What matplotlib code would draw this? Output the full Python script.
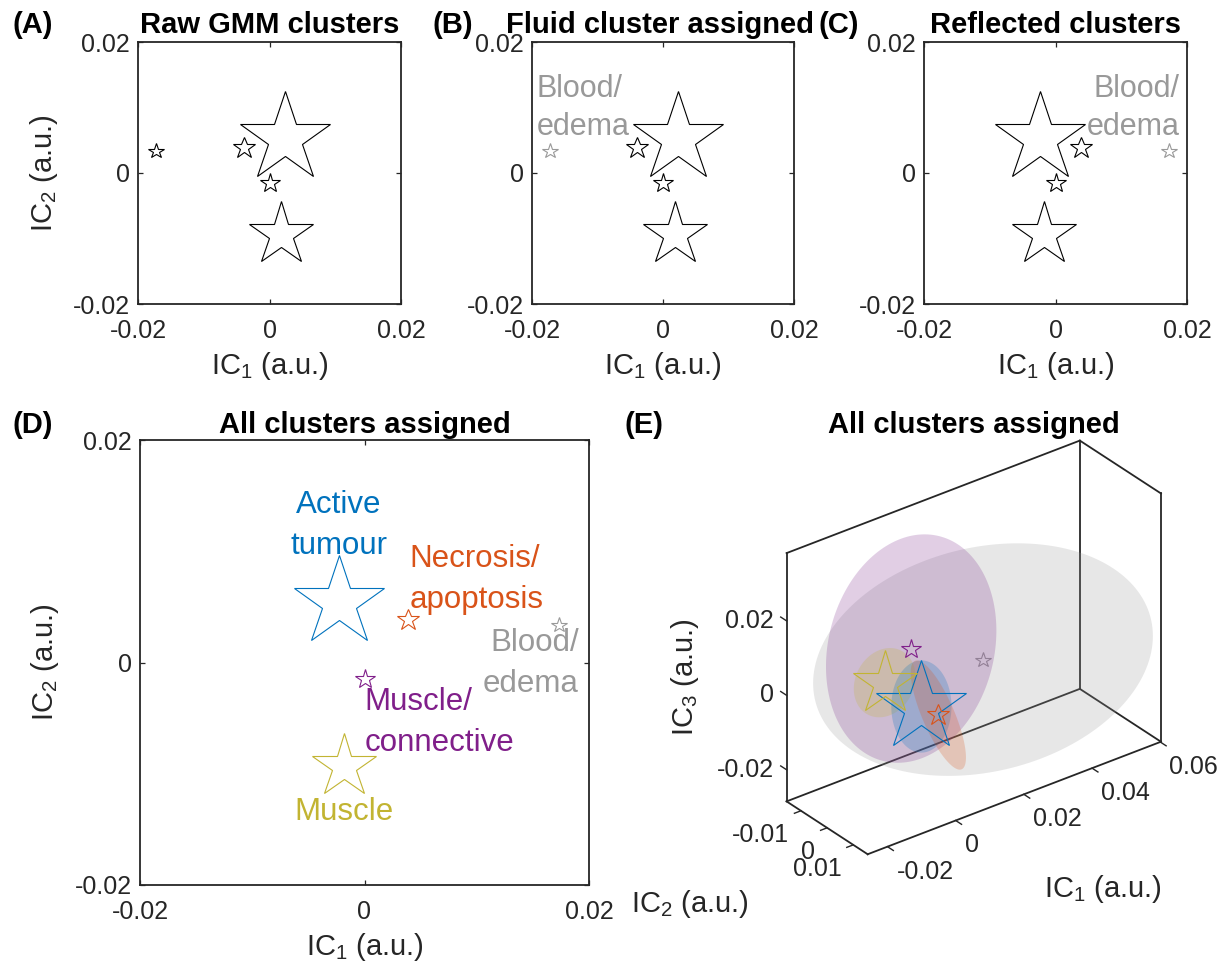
import numpy as np
import matplotlib
matplotlib.use("Agg")
import matplotlib.pyplot as plt
from matplotlib.colors import to_rgba
from mpl_toolkits.mplot3d import proj3d
from mpl_toolkits.mplot3d.art3d import Poly3DCollection

plt.rcParams["font.family"] = ["Liberation Sans", "DejaVu Sans"]
plt.rcParams["mathtext.fontset"] = "custom"
plt.rcParams["mathtext.rm"] = "Liberation Sans"
plt.rcParams["mathtext.it"] = "Liberation Sans:italic"
plt.rcParams["mathtext.bf"] = "Liberation Sans:bold"
plt.rcParams["axes.unicode_minus"] = False

# ---------------- data ----------------
cluster_names = ["Active\ntumour", "Necrosis/\napoptosis", "Blood/\nedema",
                 "Muscle/\nconnective", "Muscle"]
ic1_raw = [0.0023, -0.0039, -0.0173, 0.0000, 0.0018]
ic2_mean = [0.0054, 0.0038, 0.0034, -0.0015, -0.0093]
ic3_mean = [-0.0017, -0.0069, 0.0031, 0.0099, -0.0022]
cluster_weight = [67.5, 16.5, 11.5, 15.0, 48.0]
cluster_colors = ["#0072BD", "#D95319", "#999999", "#801F8A", "#C2B432"]
fluid_index = 2
ic1_reflected = [-v for v in ic1_raw]

ellipsoid_shape = [
    [[4.9e-5, 0.0, 0.0], [0.0, 4.9e-5, 0.0], [0.0, 0.0, 1.37e-4]],
    [[2.2e-5, -1.0e-5, -1.5e-5], [-1.0e-5, 1.0e-4, -6.73e-5], [-1.5e-5, -6.73e-5, 1.372e-4]],
    [[1.84e-3, 3.63e-4, -2.2e-4], [3.63e-4, 1.44e-4, 1.1e-5], [-2.2e-4, 1.1e-5, 1.0e-3]],
    [[5.2e-4, 0.0, 0.0], [0.0, 1.77e-4, 0.0], [0.0, 0.0, 8.4e-4]],
    [[6.7e-5, 0.0, 0.0], [0.0, 2.5e-5, 0.0], [0.0, 0.0, 7.3e-5]],
]
ellipsoid_colors = ["#0072BD", "#D95319", "#999999", "#7E2F8E", "#C2B432"]

ticks_2d = [-0.02, 0.0, 0.02]
ticklabels_2d = ["-0.02", "0", "0.02"]
ic1_ticks_3d = [-0.02, 0.0, 0.02, 0.04, 0.06]
ic1_ticklabels_3d = ["-0.02", "0", "0.02", "0.04", "0.06"]
ic2_ticks_3d = [-0.01, 0.0, 0.01]
ic2_ticklabels_3d = ["-0.01", "0", "0.01"]
ic3_ticks_3d = [-0.02, 0.0, 0.02]
ic3_ticklabels_3d = ["-0.02", "0", "0.02"]
xlim3 = (-0.0258, 0.0602)
ylim3 = (-0.0155, 0.0155)
zlim3 = (-0.0285, 0.0382)

# ---------------- layout ----------------
W, H, DPI = 1228, 968, 100
fig = plt.figure(figsize=(W / DPI, H / DPI), dpi=DPI)
AX_C = "#262626"


def px_axes(l, t, r, b, **kw):
    return fig.add_axes([l / W, 1 - b / H, (r - l) / W, (b - t) / H], **kw)


def ftext(x, y, s, **kw):
    return fig.text(x / W, 1 - y / H, s, **kw)


def setup_2d(ax):
    ax.set_xlim(-0.02, 0.02)
    ax.set_ylim(-0.02, 0.02)
    ax.set_xticks(ticks_2d)
    ax.set_xticklabels(ticklabels_2d)
    ax.set_yticks(ticks_2d)
    ax.set_yticklabels(ticklabels_2d)
    ax.tick_params(direction="in", length=3.5, width=0.9, top=True, right=True,
                   labelsize=18, colors=AX_C)
    ax.tick_params(axis="x", pad=10.5)
    ax.tick_params(axis="y", pad=6)
    for sp in ax.spines.values():
        sp.set_linewidth(1.3)
        sp.set_color(AX_C)


def multiline(ax, x, y, text, ha, color, size, step_pt):
    for i, line in enumerate(text.split("\n")):
        ax.annotate(line, xy=(x, y), xytext=(0, -i * step_pt), textcoords="offset points",
                    ha=ha, va="baseline", color=color, fontsize=size, annotation_clip=False)


IC1 = r"$\mathregular{IC_{1}}$ (a.u.)"
IC2 = r"$\mathregular{IC_{2}}$ (a.u.)"
IC3 = r"$\mathregular{IC_{3}}$ (a.u.)"

small_boxes = [(138, 42, 401, 304), (532, 42, 794, 304), (924, 42, 1187, 304)]
small_titles = ["Raw GMM clusters", "Fluid cluster assigned", "Reflected clusters"]
small_letters = ["(A)", "(B)", "(C)"]
letter_x = [13, 432, 818]

for k, box in enumerate(small_boxes):
    ax = px_axes(*box)
    setup_2d(ax)
    xs = ic1_reflected if k == 2 else ic1_raw
    for i in range(len(xs)):
        col = "black"
        if k >= 1 and i == fluid_index:
            col = cluster_colors[fluid_index]
        ax.plot(xs[i], ic2_mean[i], marker="*", ms=cluster_weight[i], mfc="none",
                mec=col, mew=0.8, ls="none")
    if k == 1:
        multiline(ax, -0.0193, 0.01165, cluster_names[fluid_index], "left",
                  cluster_colors[fluid_index], 22, 27.6)
    if k == 2:
        multiline(ax, 0.0189, 0.01165, cluster_names[fluid_index], "right",
                  cluster_colors[fluid_index], 22, 27.6)
    cx = (box[0] + box[2]) / 2
    ftext(cx - (3 if k == 1 else 0), 33, small_titles[k], ha="center", va="baseline",
          fontsize=21, fontweight="bold")
    ftext(letter_x[k], 33, small_letters[k], ha="left", va="baseline", fontsize=21,
          fontweight="bold")
    ftext(cx, 374, IC1, ha="center", va="baseline", fontsize=21, color=AX_C)
    if k == 0:
        ftext(44, 173, IC2, ha="center", va="center", rotation=90, fontsize=21, color=AX_C)

# ---------------- panel D ----------------
d_box = (140, 440, 589, 885)
axd = px_axes(*d_box)
setup_2d(axd)
for i in range(len(ic1_reflected)):
    axd.plot(ic1_reflected[i], ic2_mean[i], marker="*", ms=cluster_weight[i], mfc="none",
             mec=cluster_colors[i], mew=0.8, ls="none")
d_label_pos = [(-0.0023, 0.01343, "center"), (0.0040, 0.00858, "left"),
               (0.0191, 0.00103, "right"), (0.0000, -0.00427, "left"),
               (-0.0018, -0.01419, "center")]
for i, (lx, ly, ha) in enumerate(d_label_pos):
    multiline(axd, lx, ly, cluster_names[i], ha, cluster_colors[i], 22.5, 29.5)
ftext(364.5, 433, "All clusters assigned", ha="center", va="baseline", fontsize=21,
      fontweight="bold")
ftext(13, 433, "(D)", ha="left", va="baseline", fontsize=21, fontweight="bold")
ftext(364.5, 955, IC1, ha="center", va="baseline", fontsize=21, color=AX_C)
ftext(45, 662.5, IC2, ha="center", va="center", rotation=90, fontsize=21, color=AX_C)

# ---------------- panel E (3D) ----------------
ELEV, AZIM = 30.0, -127.5
size3 = 600
c0 = (975, 650)
ax3 = fig.add_axes([(c0[0] - size3 / 2) / W, 1 - (c0[1] + size3 / 2) / H, size3 / W, size3 / H],
                   projection="3d", computed_zorder=False)
ax3.set_facecolor("none")
ax3.set_proj_type("ortho")
ax3.view_init(elev=ELEV, azim=AZIM)
ranges = (xlim3[1] - xlim3[0], ylim3[1] - ylim3[0], zlim3[1] - zlim3[0])
zoom = 1.0
ax3.set_box_aspect(ranges, zoom=zoom)
ax3.set_axis_off()

# viewing direction expressed in data coordinates (y axis is reversed)
e_r, a_r = np.deg2rad(ELEV), np.deg2rad(AZIM)
view_dir = np.array([np.cos(e_r) * np.cos(a_r), -np.cos(e_r) * np.sin(a_r), np.sin(e_r)])

# ellipsoids: filled outline (contour generator) of each ellipsoid surface
tt = np.linspace(0, 2 * np.pi, 181)
draw_order = [2, 3, 4, 0, 1]
for zo, i in enumerate(draw_order):
    S = np.array(ellipsoid_shape[i])
    ev, evec = np.linalg.eigh(S)
    L = evec @ np.diag(np.sqrt(ev))
    mu = np.array([ic1_reflected[i], ic2_mean[i], ic3_mean[i]])
    dp = np.linalg.solve(L, view_dir)
    dp /= np.linalg.norm(dp)
    tmp = np.array([1.0, 0.0, 0.0]) if abs(dp[0]) < 0.9 else np.array([0.0, 1.0, 0.0])
    p = np.cross(dp, tmp)
    p /= np.linalg.norm(p)
    q = np.cross(dp, p)
    ring = np.outer(np.cos(tt), p) + np.outer(np.sin(tt), q)
    verts = mu + ring @ L.T
    poly = Poly3DCollection([verts], facecolors=[to_rgba(ellipsoid_colors[i], 0.23)],
                            edgecolors="none", linewidths=0)
    poly.set_zorder(3 + zo)
    ax3.add_collection3d(poly)

# stars
for i in range(len(ic1_reflected)):
    zo = 2 if i == fluid_index else 10
    ax3.plot([ic1_reflected[i]], [ic2_mean[i]], [ic3_mean[i]], marker="*",
             ms=cluster_weight[i], mfc="none", mec=cluster_colors[i], mew=0.8, ls="none",
             zorder=zo)

ax3.set_xlim(*xlim3)
ax3.set_ylim(ylim3[1], ylim3[0])
ax3.set_zlim(*zlim3)
ax3.set_autoscale_on(False)

xl, xh = xlim3
yb, yf = ylim3
zl, zh = zlim3
edges = [((xl, yb, zl), (xl, yb, zh)), ((xl, yb, zh), (xh, yb, zh)),
         ((xh, yb, zl), (xh, yb, zh)), ((xh, yb, zh), (xh, yf, zh)),
         ((xh, yf, zl), (xh, yf, zh)), ((xl, yb, zl), (xh, yb, zl)),
         ((xh, yb, zl), (xh, yf, zl)), ((xl, yb, zl), (xl, yf, zl)),
         ((xl, yf, zl), (xh, yf, zl))]
for a, b in edges:
    ax3.plot([a[0], b[0]], [a[1], b[1]], [a[2], b[2]], color=AX_C, lw=1.3, zorder=1,
             solid_capstyle="projecting")


def project(X, Y, Z):
    x2, y2, _ = proj3d.proj_transform(np.atleast_1d(X), np.atleast_1d(Y), np.atleast_1d(Z),
                                      ax3.get_proj())
    return ax3.transData.transform(np.column_stack([x2, y2]))


# calibrate zoom and position so the box corners sit where the reference has them
corners = np.array([(xl, yb, zl), (xl, yb, zh), (xh, yb, zh), (xh, yb, zl),
                    (xh, yf, zh), (xh, yf, zl), (xl, yf, zl)])
target_img = np.array([(786.7, 801.7), (786.7, 551.7), (1079, 441), (1079, 689),
                       (1161, 493), (1161, 742), (869, 855)])
target = np.column_stack([target_img[:, 0], H - target_img[:, 1]])
for _ in range(2):
    fig.canvas.draw()
    cur = project(corners[:, 0], corners[:, 1], corners[:, 2])
    org = ax3.transData.transform([[0.0, 0.0]])[0]
    r = cur - org
    rm = r.mean(0)
    tm = target.mean(0)
    s = np.sum((r - rm) * (target - tm)) / np.sum((r - rm) ** 2)
    new_org = tm - s * rm
    shift = new_org - org
    zoom *= s
    ax3.set_box_aspect(ranges, zoom=zoom)
    bb = ax3.get_position()
    ax3.set_position([bb.x0 + shift[0] / W, bb.y0 + shift[1] / H, bb.width, bb.height])
fig.canvas.draw()

# pixel scale along axes for tick lengths
pA = project(xl, yb, zl)[0]
pG = project(xl, yf, zl)[0]
pD = project(xh, yb, zl)[0]
px_per_y = np.hypot(*(pG - pA)) / (yf - yb)
px_per_x = np.hypot(*(pD - pA)) / (xh - xl)
tick_px = 7.0
dy_t = tick_px / px_per_y
dx_t = tick_px / px_per_x

for t in ic1_ticks_3d:
    ax3.plot([t, t], [yf, yf + dy_t], [zl, zl], color=AX_C, lw=1.0, zorder=1)
for t in ic2_ticks_3d:
    ax3.plot([xl, xl - dx_t], [t, t], [zl, zl], color=AX_C, lw=1.0, zorder=1)
for t in ic3_ticks_3d:
    ax3.plot([xl, xl], [yb, yb - dy_t], [t, t], color=AX_C, lw=1.0, zorder=1)

TK = 18
pts = project(ic1_ticks_3d, [yf] * 5, [zl] * 5)
for (px, py), lab in zip(pts, ic1_ticklabels_3d):
    fig.text((px + 9) / W, (py - 13) / H, lab, ha="left", va="top", fontsize=TK, color=AX_C)
pts = project([xl] * 3, ic2_ticks_3d, [zl] * 3)
for (px, py), lab in zip(pts, ic2_ticklabels_3d):
    fig.text((px - 12) / W, (py - 24) / H, lab, ha="right", va="center", fontsize=TK,
             color=AX_C)
pts = project([xl] * 3, [yb] * 3, ic3_ticks_3d)
for (px, py), lab in zip(pts, ic3_ticklabels_3d):
    fig.text((px - 13) / W, py / H, lab, ha="right", va="center", fontsize=TK, color=AX_C)

ftext(973.5, 433, "All clusters assigned", ha="center", va="baseline", fontsize=21,
      fontweight="bold")
ftext(625, 433, "(E)", ha="left", va="baseline", fontsize=21, fontweight="bold")
ftext(1103, 896.7, IC1, ha="center", va="baseline", fontsize=21, color=AX_C)
ftext(689.5, 912, IC2, ha="center", va="baseline", fontsize=21, color=AX_C)
ftext(685, 677, IC3, ha="center", va="center", rotation=90, fontsize=21, color=AX_C)

fig.savefig("out.png", dpi=DPI, facecolor="white")
